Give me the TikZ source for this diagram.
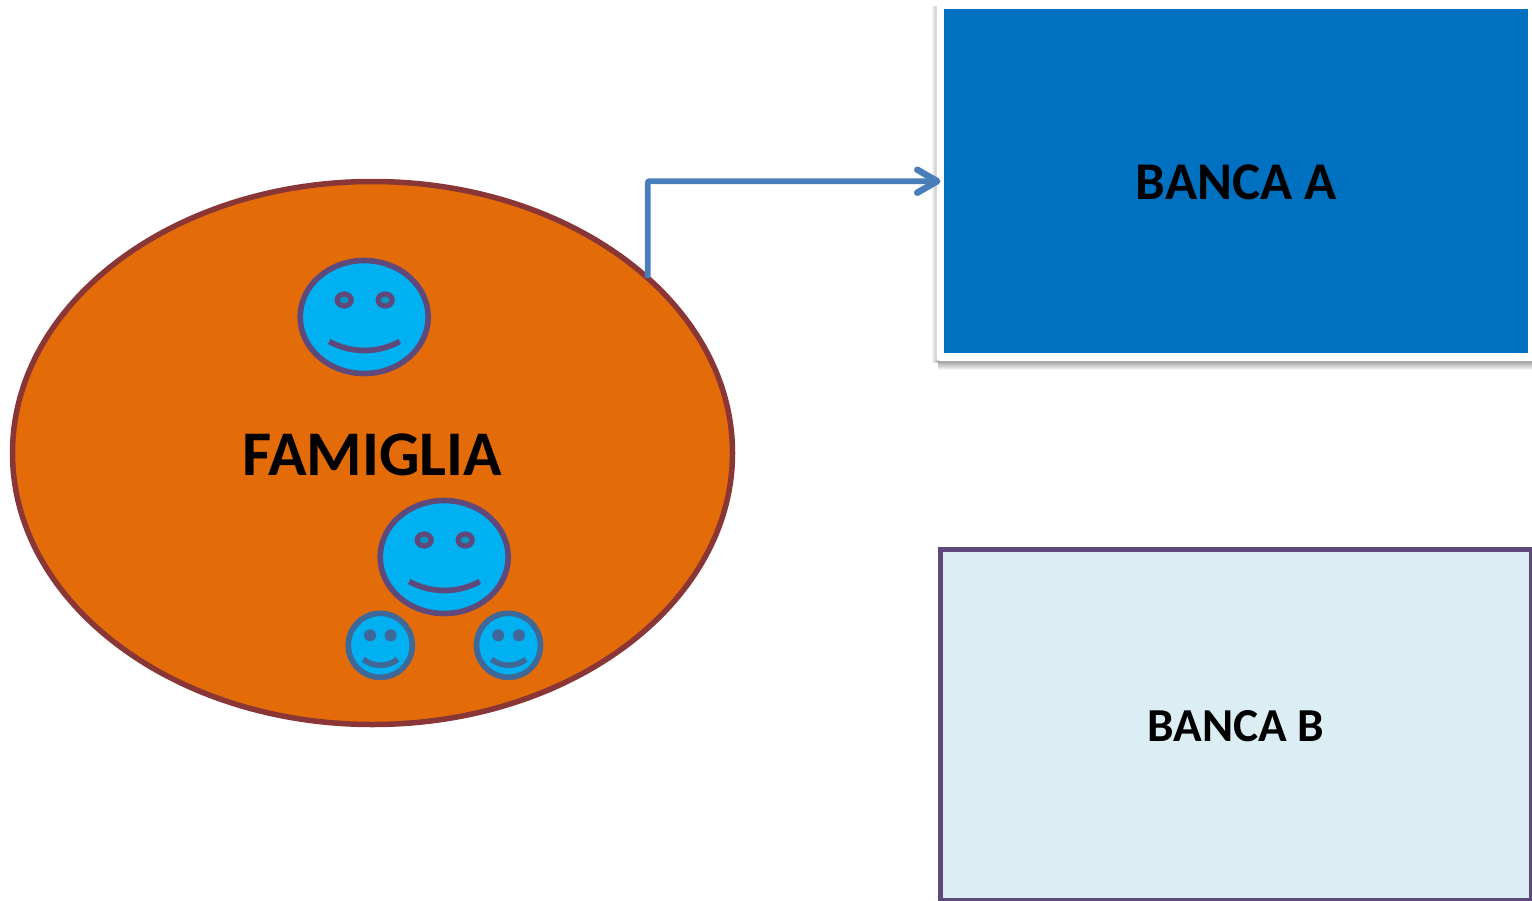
\documentclass[tikz,border=0pt]{standalone}
\usepackage{fontspec}
\setmainfont{Carlito}
\usetikzlibrary{arrows.meta,shapes.geometric}
\definecolor{famfill}{HTML}{E36C09}
\definecolor{famline}{HTML}{8A3636}
\definecolor{facefill}{HTML}{00B0F0}
\definecolor{faceline}{HTML}{5F497A}
\definecolor{eyefill}{HTML}{0797C4}
\definecolor{kidline}{HTML}{3F6797}
\definecolor{linkline}{HTML}{4A7EBB}
\definecolor{bluebox}{HTML}{0070C0}
\definecolor{palebox}{HTML}{DAEEF3}
\newcommand{\lowered}[2]{\raisebox{-#1}[\height][\depth]{#2}}
\tikzset{
  famshape/.style={ellipse,draw=famline,fill=famfill,line width=5.5pt,minimum width=720pt,minimum height=543pt,inner sep=0pt,outer sep=0pt,font=\bfseries\fontsize{63.6}{64}\selectfont,text=black},
  bigface/.style={ellipse,draw=faceline,fill=facefill,line width=5.6pt,minimum width=128pt,minimum height=113pt,inner sep=0pt,outer sep=0pt},
  bigeye/.style={ellipse,draw=faceline,fill=eyefill,line width=5.2pt,minimum width=14pt,minimum height=12pt,inner sep=0pt,outer sep=0pt},
  bigmouth/.style={draw=faceline,line width=5.6pt},
  kidface/.style={ellipse,draw=kidline,fill=facefill,line width=5.6pt,minimum width=64pt,minimum height=64pt,inner sep=0pt,outer sep=0pt},
  kideye/.style={circle,fill=kidline,minimum size=12pt,inner sep=0pt,outer sep=0pt},
  kidmouth/.style={draw=kidline,line width=5.6pt},
  bankA/.style={rectangle,fill=bluebox,minimum width=584pt,minimum height=343.5pt,inner sep=0pt,outer sep=0pt,font=\bfseries\fontsize{53}{53}\selectfont,text=black},
  bankB/.style={rectangle,draw=faceline,fill=palebox,line width=5pt,minimum width=591.5pt,minimum height=351pt,inner sep=0pt,outer sep=0pt,font=\bfseries\fontsize{47.3}{48}\selectfont,text=black},
  linkarrow/.style={draw=linkline,line width=5.8pt,rounded corners=2pt,-{Straight Barb[length=20pt,width=23pt,line width=6.5pt,round]},shorten >=3.5pt},
}
\newcommand{\bigsmile}[2]{%
  \node[bigface] (#1) at (#2) {};
  \node[bigeye] (#1eyeL) at ([shift={(-20,-17)}]#1.center) {};
  \node[bigeye] (#1eyeR) at ([shift={(21,-17)}]#1.center) {};
  \coordinate (#1mL) at ([shift={(-35,24.5)}]#1.center);
  \coordinate (#1mR) at ([shift={(35.5,24.5)}]#1.center);
  \path[bigmouth] (#1mL) .. controls ([shift={(22,12)}]#1mL) and ([shift={(-22,12)}]#1mR) .. (#1mR);
}
\newcommand{\kidsmile}[2]{%
  \node[kidface] (#1) at (#2) {};
  \node[kideye] (#1eyeL) at ([shift={(-10.3,-10)}]#1.center) {};
  \node[kideye] (#1eyeR) at ([shift={(10.4,-10)}]#1.center) {};
  \coordinate (#1mL) at ([shift={(-17,14)}]#1.center);
  \coordinate (#1mR) at ([shift={(17.4,14)}]#1.center);
  \path[kidmouth] (#1mL) .. controls ([shift={(10,8)}]#1mL) and ([shift={(-10,8)}]#1mR) .. (#1mR);
}
\begin{document}
\begin{tikzpicture}[x=1pt,y=-1pt]
\useasboundingbox (0,0) rectangle (1532,900);
% white card with soft shadow behind Banca A
\shade[top color=black!42,bottom color=white] (938,360) rectangle (1532,370);
\shade[left color=white,right color=black!30] (931,6) rectangle (938,362);
\fill[white,rounded corners=3pt] (936.5,2) rectangle (1540,361);
\node[bankA] (a) at (1236,181.2) {\lowered{1pt}{BANCA A}};
\node[bankB] (b) at (1235.8,724.8) {\lowered{1.5pt}{BANCA B}};
\node[famshape] (fam) at (372.5,453) {\lowered{2pt}{FAMIGLIA}};
\bigsmile{dad}{364.2,317}
\bigsmile{mum}{444.2,557}
\kidsmile{kidA}{380.3,645.3}
\kidsmile{kidB}{508.5,645.3}
\coordinate (linkstart) at ([shift={(-2,-2)}]fam.32.65);
\draw[linkarrow] (linkstart) |- (a.west);
\end{tikzpicture}
\end{document}
